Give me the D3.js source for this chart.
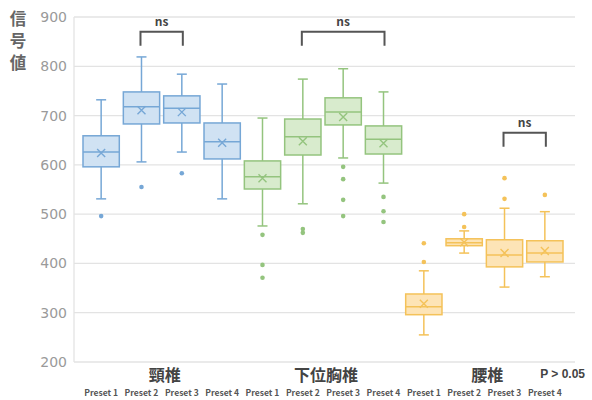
<!DOCTYPE html>
<html>
<head>
<meta charset="utf-8">
<script src="https://cdn.jsdelivr.net/npm/d3@7"></script>
<style>
  body { margin: 0; background: #fff; }
  text { font-family: "Noto Sans CJK JP", "Noto Sans", sans-serif; }
</style>
</head>
<body>
<svg id="chart" width="592" height="400"></svg>
<script>
// box stats
const groups = ["頸椎", "下位胸椎", "腰椎"];
const presets = ["Preset 1", "Preset 2", "Preset 3", "Preset 4"];
const whiskerHigh = [732, 819, 784, 764, 695, 774, 795, 748, 385, 466, 512, 505];
const q3Values    = [659, 748, 740, 685, 608, 693, 736, 679, 338, 450, 448, 446];
const medians     = [626, 718, 715, 647, 576, 657, 707, 652, 312, 442, 417, 421];
const means       = [624, 711, 707, 645, 573, 648, 697, 644, 318, 443, 421, 425];
const q1Values    = [596, 683, 685, 612, 551, 620, 681, 622, 296, 436, 393, 403];
const whiskerLow  = [531, 606, 626, 531, 476, 521, 614, 563, 255, 421, 352, 373];
const outliers = [
  [496], [555], [583], [],
  [458, 397, 371], [470, 462], [596, 571, 529, 496], [535, 506, 484],
  [441, 403], [474, 500], [573, 531], [539]
];
// pairs of box indices with an "ns" bracket, and the bracket's level
const brackets = [[1, 2, 870], [5, 7, 870], [10, 11, 665]];
const yTicks = [200, 300, 400, 500, 600, 700, 800, 900];

const groupColors = [
  {fill: "#d0e2f3", stroke: "#76a7d6"},
  {fill: "#d8ebcd", stroke: "#94c47e"},
  {fill: "#fde4b6", stroke: "#f4c259"}
];

const svg = d3.select("#chart");
const plotLeft = 74, plotRight = 575, plotTop = 17, plotBottom = 362;

const y = d3.scaleLinear().domain([200, 900]).range([plotBottom, plotTop]);

const keys = d3.range(12);
const x = d3.scaleBand().domain(keys).range([83, 563]).paddingInner(0.1).paddingOuter(0);
const cx = i => x(i) + x.bandwidth() / 2;

// grid
svg.append("g").selectAll("line")
  .data(yTicks)
  .join("line")
  .attr("x1", plotLeft).attr("x2", plotRight)
  .attr("y1", d => y(d)).attr("y2", d => y(d))
  .attr("stroke", "#e3e3e3").attr("stroke-width", 1.3);

svg.append("line")
  .attr("x1", plotLeft).attr("x2", plotLeft).attr("y1", plotTop).attr("y2", plotBottom)
  .attr("stroke", "#e3e3e3").attr("stroke-width", 1.3);

svg.append("g").selectAll("text")
  .data(yTicks)
  .join("text")
  .attr("x", 67).attr("y", d => y(d) + 5)
  .attr("text-anchor", "end")
  .attr("font-size", 14).attr("fill", "#9a9a9a")
  .style("font-family", "'DejaVu Sans', sans-serif")
  .text(d => d);

// y title, stacked characters
svg.append("g").selectAll("text")
  .data(["信", "号", "値"])
  .join("text")
  .attr("x", 18).attr("y", (d, i) => 25 + i * 22)
  .attr("text-anchor", "middle")
  .attr("font-size", 16.5).attr("font-weight", "bold").attr("fill", "#666")
  .text(d => d);

// boxes
const cap = 10;
svg.append("g").selectAll("g")
  .data(keys)
  .join("g")
  .each(function(i) {
    const g = d3.select(this);
    const c = groupColors[Math.floor(i / 4)];
    const xc = cx(i);
    const w = x.bandwidth();
    g.append("line").attr("x1", xc).attr("x2", xc)
      .attr("y1", y(whiskerHigh[i])).attr("y2", y(whiskerLow[i]))
      .attr("stroke", c.stroke).attr("stroke-width", 1.5);
    [whiskerHigh[i], whiskerLow[i]].forEach(v => {
      g.append("line").attr("x1", xc - cap / 2).attr("x2", xc + cap / 2)
        .attr("y1", y(v)).attr("y2", y(v))
        .attr("stroke", c.stroke).attr("stroke-width", 1.5);
    });
    g.append("rect")
      .attr("x", x(i)).attr("width", w)
      .attr("y", y(q3Values[i])).attr("height", y(q1Values[i]) - y(q3Values[i]))
      .attr("fill", c.fill).attr("stroke", c.stroke).attr("stroke-width", 1.5);
    g.append("line").attr("x1", x(i)).attr("x2", x(i) + w)
      .attr("y1", y(medians[i])).attr("y2", y(medians[i]))
      .attr("stroke", c.stroke).attr("stroke-width", 1.5);
    const my = y(means[i]), s = 4;
    g.append("path")
      .attr("d", `M${xc - s},${my - s}L${xc + s},${my + s}M${xc - s},${my + s}L${xc + s},${my - s}`)
      .attr("stroke", c.stroke).attr("stroke-width", 1.4);
    g.selectAll("circle")
      .data(outliers[i])
      .join("circle")
      .attr("cx", xc).attr("cy", d => y(d)).attr("r", 2.3)
      .attr("fill", c.stroke);
  });

// significance brackets
const bg = svg.append("g");
brackets.forEach(([a, b, v]) => {
  const topY = y(v);
  const x1 = cx(a) - 1, x2 = cx(b) + 1;
  bg.append("path")
    .attr("d", `M${x1},${topY + 14}V${topY}H${x2}V${topY + 14}`)
    .attr("fill", "none").attr("stroke", "#555").attr("stroke-width", 2);
  bg.append("text")
    .attr("x", (x1 + x2) / 2).attr("y", topY - 6)
    .attr("text-anchor", "middle")
    .attr("font-size", 12).attr("font-weight", "bold").attr("fill", "#444")
    .text("ns");
});

// category labels
svg.append("g").selectAll("text")
  .data(groups)
  .join("text")
  .attr("x", (d, gi) => (cx(gi * 4) + cx(gi * 4 + 3)) / 2 + 3)
  .attr("y", 381)
  .attr("text-anchor", "middle")
  .attr("font-size", 16).attr("font-weight", "bold").attr("fill", "#444")
  .text(d => d);

svg.append("g").selectAll("text")
  .data(keys)
  .join("text")
  .attr("x", d => cx(d))
  .attr("y", 396)
  .attr("text-anchor", "middle")
  .attr("font-size", 8.5).attr("font-weight", "bold").attr("fill", "#555")
  .text(d => presets[d % 4]);

svg.append("text")
  .attr("x", 585).attr("y", 378)
  .attr("text-anchor", "end")
  .attr("font-size", 12).attr("font-weight", "bold").attr("fill", "#444")
  .style("font-family", "'Liberation Sans', sans-serif")
  .text("P > 0.05");
</script>
</body>
</html>
